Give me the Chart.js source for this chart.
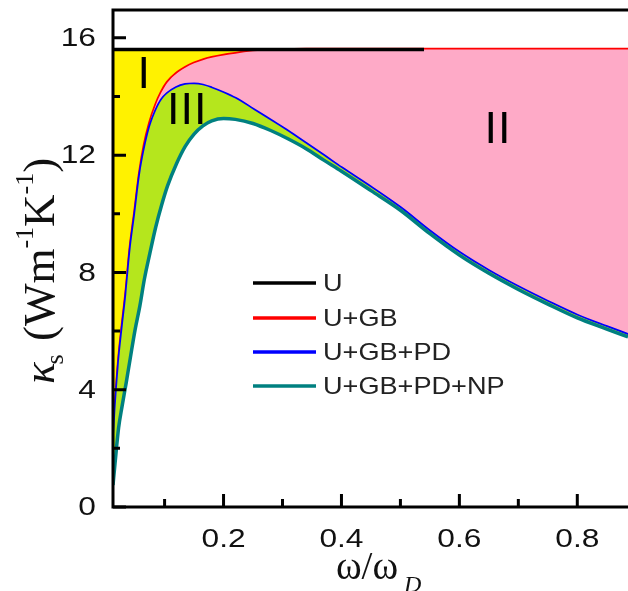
<!DOCTYPE html>
<html>
<head>
<meta charset="utf-8">
<script src="https://cdn.jsdelivr.net/npm/chart.js@4.4.0/dist/chart.umd.min.js"></script>
<style>
  html, body { margin: 0; padding: 0; background: #fff; }
  #chart { display: block; }
</style>
</head>
<body>
<canvas id="chart" width="628" height="591"></canvas>
<script>
// omega / omega_D (x values shared by the three curves)
const omega = [0.0125, 0.016, 0.022, 0.028, 0.035, 0.042, 0.05, 0.058, 0.066, 0.075,
  0.085, 0.095, 0.105, 0.12, 0.135, 0.15, 0.165, 0.18, 0.2, 0.22,
  0.25, 0.28, 0.31, 0.34, 0.37, 0.4, 0.45, 0.5, 0.55, 0.6,
  0.65, 0.7, 0.75, 0.8, 0.85, 0.886];

// U only (flat line, drawn up to 0.54)
const omegaU = [0.0125, 0.54];
const kU = [15.6, 15.6];

// U+GB
const kGB = [2.0, 3.2, 4.9, 6.1, 7.35, 8.85, 10.1, 11.4, 12.35, 13.1,
  13.7, 14.15, 14.48, 14.78, 14.98, 15.13, 15.24, 15.32, 15.4, 15.46,
  15.54, 15.57, 15.59, 15.6, 15.6, 15.6, 15.6, 15.6, 15.6, 15.6,
  15.6, 15.6, 15.6, 15.6, 15.6, 15.6];

// U+GB+PD
const kGBPD = [1.9, 3.1, 4.8, 6.0, 7.25, 8.75, 10.0, 11.3, 12.2, 12.95,
  13.5, 13.88, 14.1, 14.3, 14.4, 14.42, 14.38, 14.28, 14.12, 13.93,
  13.56, 13.18, 12.8, 12.39, 11.98, 11.56, 10.9, 10.2, 9.4, 8.67,
  8.05, 7.5, 7.0, 6.53, 6.14, 5.87];

// U+GB+PD+NP
const kGBPDNP = [0.75, 1.5, 2.7, 3.45, 4.25, 5.1, 6.05, 6.85, 7.8, 8.65,
  9.55, 10.3, 10.95, 11.7, 12.3, 12.72, 13.0, 13.17, 13.25, 13.22,
  13.08, 12.84, 12.55, 12.22, 11.83, 11.45, 10.79, 10.12, 9.32, 8.59,
  7.97, 7.42, 6.92, 6.45, 6.07, 5.8];

const seriesLabels = ['U', 'U+GB', 'U+GB+PD', 'U+GB+PD+NP'];
const xTicks = [0.2, 0.4, 0.6, 0.8];
const xMinor = [0.1, 0.3, 0.5, 0.7];
const yTicks = [0, 4, 8, 12, 16];
const yMinor = [2, 6, 10, 14];

// region names, placed at data coords
const regionNames = ['I', 'III', 'II'];
const regionX = [0.0655, 0.1385, 0.6655];
const regionY = [14.73, 13.5, 12.85];

function pts(xs, ys) {
  return xs.map((x, i) => ({ x: x, y: ys[i] }));
}

// text stretched sideways like in the original figure
function wideText(ctx, str, x, y, sx, align) {
  ctx.save();
  ctx.translate(x, y);
  ctx.scale(sx, 1);
  ctx.textAlign = align;
  ctx.fillText(str, 0, 0);
  ctx.restore();
}

const decor = {
  id: 'decor',
  afterDraw(chart) {
    const ctx = chart.ctx;
    const area = chart.chartArea;
    const xs = chart.scales.x;
    const ys = chart.scales.y;
    ctx.save();

    // frame
    ctx.strokeStyle = '#000';
    ctx.lineWidth = 3;
    ctx.beginPath();
    ctx.moveTo(area.left, area.top);
    ctx.lineTo(area.right, area.top);
    ctx.moveTo(area.left, area.top - 1.5);
    ctx.lineTo(area.left, area.bottom);
    ctx.lineTo(area.right, area.bottom);
    ctx.stroke();

    // ticks pointing inward
    ctx.beginPath();
    yTicks.forEach(v => { const p = ys.getPixelForValue(v); ctx.moveTo(area.left, p); ctx.lineTo(area.left + 13, p); });
    yMinor.forEach(v => { const p = ys.getPixelForValue(v); ctx.moveTo(area.left, p); ctx.lineTo(area.left + 7, p); });
    xTicks.forEach(v => { const p = xs.getPixelForValue(v); ctx.moveTo(p, area.bottom); ctx.lineTo(p, area.bottom - 13); });
    xMinor.forEach(v => { const p = xs.getPixelForValue(v); ctx.moveTo(p, area.bottom); ctx.lineTo(p, area.bottom - 8); });
    ctx.stroke();

    // tick labels
    ctx.fillStyle = '#111';
    ctx.font = '26px "Liberation Sans", Arial, sans-serif';
    ctx.textBaseline = 'middle';
    yTicks.forEach(v => wideText(ctx, String(v), 96, ys.getPixelForValue(v) + 1, 1.22, 'right'));
    ctx.textBaseline = 'alphabetic';
    xTicks.forEach(v => wideText(ctx, v.toFixed(1), xs.getPixelForValue(v), 547, 1.22, 'center'));

    // legend
    const rows = [283, 318, 352, 386];
    chart.data.datasets.forEach((ds, i) => {
      ctx.strokeStyle = ds.borderColor;
      ctx.lineWidth = 3.5;
      ctx.beginPath();
      ctx.moveTo(253, rows[i]);
      ctx.lineTo(316, rows[i]);
      ctx.stroke();
      ctx.fillStyle = '#222';
      ctx.font = '24px "Liberation Sans", Arial, sans-serif';
      ctx.textBaseline = 'middle';
      wideText(ctx, ds.label, 323, rows[i] + 1, 1.13, 'left');
    });

    // region names
    ctx.fillStyle = '#000';
    ctx.font = '45px "Liberation Sans", Arial, sans-serif';
    ctx.textBaseline = 'middle';
    ctx.letterSpacing = '1px';
    regionNames.forEach((t, i) => {
      ctx.textAlign = 'center';
      ctx.fillText(t, xs.getPixelForValue(regionX[i]), ys.getPixelForValue(regionY[i]));
    });
    ctx.letterSpacing = '0px';

    // x title  ω/ω_D
    ctx.fillStyle = '#111';
    ctx.textBaseline = 'alphabetic';
    ctx.textAlign = 'left';
    ctx.font = '39px "Liberation Serif", "Times New Roman", serif';
    const xt = 'ω/ω';
    const xw = ctx.measureText(xt).width;
    const x0 = 367 - xw / 2;
    ctx.fillText(xt, x0, 579);
    ctx.font = 'italic 24px "Liberation Serif", "Times New Roman", serif';
    ctx.fillText('D', x0 + xw + 6, 592);

    // y title  κ_s (W m^-1 K^-1), rotated
    ctx.translate(54, 384);
    ctx.rotate(-Math.PI / 2);
    let cx = 0;
    const big = '45px "Liberation Serif", "Times New Roman", serif';
    const small = '26px "Liberation Serif", "Times New Roman", serif';
    ctx.font = 'italic ' + big;
    ctx.fillText('κ', cx, 0);
    cx += ctx.measureText('κ').width;
    ctx.font = small;
    ctx.fillText('s', cx - 2, 9);
    cx += ctx.measureText('s').width;
    ctx.font = big;
    ctx.fillText(' (Wm', cx, 0);
    cx += ctx.measureText(' (Wm').width;
    ctx.font = small;
    ctx.fillText('-1', cx, -21);
    cx += ctx.measureText('-1').width;
    ctx.font = big;
    ctx.fillText('K', cx, 0);
    cx += ctx.measureText('K').width;
    ctx.font = small;
    ctx.fillText('-1', cx, -21);
    cx += ctx.measureText('-1').width;
    ctx.font = big;
    ctx.fillText(')', cx, 0);

    ctx.restore();
  }
};

const line = {
  pointRadius: 0,
  borderWidth: 3.5,
  cubicInterpolationMode: 'monotone'
};

new Chart(document.getElementById('chart'), {
  type: 'line',
  data: {
    datasets: [
      Object.assign({ label: seriesLabels[0], data: pts(omegaU, kU), borderColor: '#000000', fill: false, order: 0 }, line),
      Object.assign({ label: seriesLabels[1], data: pts(omega, kGB), borderColor: '#ff0000',
        backgroundColor: '#fff200', fill: { value: kU[0] }, order: 3 }, line),
      Object.assign({ label: seriesLabels[2], data: pts(omega, kGBPD), borderColor: '#0000ff',
        backgroundColor: '#feaac7', fill: 1, order: 2 }, line),
      Object.assign({ label: seriesLabels[3], data: pts(omega, kGBPDNP), borderColor: '#008080',
        backgroundColor: '#b5e61d', fill: 2, order: 1 }, line)
    ]
  },
  options: {
    responsive: false,
    animation: false,
    devicePixelRatio: 1,
    layout: { padding: { left: 113, top: 10, right: 0, bottom: 84 } },
    plugins: {
      legend: { display: false },
      tooltip: { enabled: false }
    },
    scales: {
      x: { type: 'linear', min: 0.0125, max: 0.886, display: false },
      y: { type: 'linear', min: 0, max: 16.95, display: false }
    }
  },
  plugins: [decor]
});
</script>
</body>
</html>
